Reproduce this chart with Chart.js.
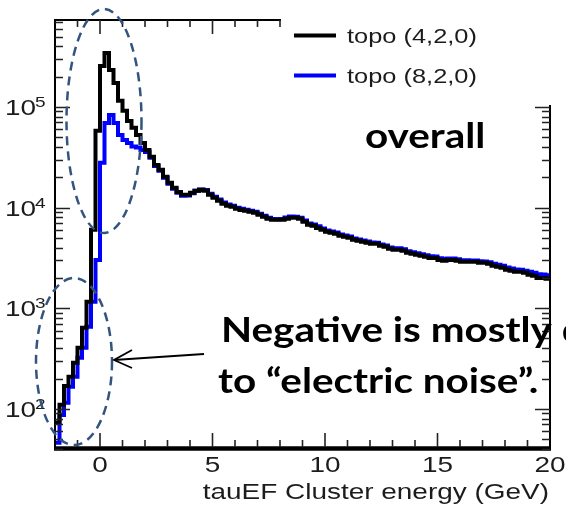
<!DOCTYPE html>
<html>
<head>
<meta charset="utf-8">
<script src="https://cdn.jsdelivr.net/npm/chart.js@4.4.1/dist/chart.umd.min.js"></script>
<style>
html, body { margin: 0; padding: 0; background: #fff; }
canvas { display: block; }
</style>
</head>
<body>
<canvas id="c" width="566" height="508"></canvas>
<script>
// Histogram binning: 110 bins of 0.2 GeV between -2 and 20 GeV
const binLow = -2;
const binHigh = 20;
const binWidth = 0.2;

// Entries per bin, clustering topo (4,2,0)
const topo420 = [
  73, 110, 169, 208, 287, 405, 638, 1160, 6010, 57800,
  255000, 344000, 233000, 173000, 114800, 91300, 72600, 61900, 52700, 43900,
  37400, 31900, 26500, 23700, 20200, 17600, 15700, 14300, 13400, 13400,
  14000, 14700, 15000, 14700, 13400, 12500, 11700, 10900, 10400, 10200,
  9700, 9480, 9270, 9060, 8860, 8470, 8090, 7720, 7550, 7550,
  7550, 7720, 7900, 7900, 7720, 7210, 6730, 6580, 6280, 6010,
  5740, 5610, 5480, 5240, 5120, 5000, 4780, 4670, 4560, 4460,
  4360, 4360, 4170, 4070, 3890, 3800, 3800, 3720, 3550, 3470,
  3390, 3310, 3240, 3160, 3160, 3020, 2960, 3020, 3020, 2960,
  2890, 2890, 2890, 2890, 2820, 2820, 2760, 2640, 2580, 2520,
  2410, 2350, 2300, 2300, 2250, 2150, 2100, 2000, 2000, 1960
];

// Entries per bin, clustering topo (8,2,0)
const topo820 = [
  46, 87, 115, 166, 208, 321, 405, 653, 1160, 3020,
  27800, 69300, 83300, 69300, 52700, 47000, 43900, 40500, 39600, 37400,
  35700, 31200, 25900, 23200, 19800, 17200, 15400, 14000, 13100, 13200,
  13900, 14700, 15100, 14900, 13700, 12800, 12000, 11200, 10700, 10400,
  9950, 9720, 9500, 9300, 9100, 8700, 8300, 7900, 7700, 7650,
  7700, 7950, 8150, 8100, 7900, 7450, 6950, 6800, 6500, 6200,
  5920, 5780, 5650, 5400, 5280, 5150, 4930, 4820, 4700, 4600,
  4500, 4480, 4300, 4200, 4010, 3930, 3950, 3850, 3680, 3590,
  3510, 3430, 3360, 3280, 3270, 3130, 3080, 3120, 3110, 3060,
  2990, 3000, 2980, 2970, 2920, 2910, 2860, 2760, 2700, 2640,
  2540, 2480, 2430, 2410, 2360, 2300, 2250, 2180, 2160, 2120
];

const seriesNames = ['topo (4,2,0)', 'topo (8,2,0)'];
const seriesColors = ['#000000', '#0000ff'];

// Axis labelling
const xMajorTicks = [0, 5, 10, 15, 20];
const yDecades = [2, 3, 4, 5];
const xTitle = 'tauEF Cluster energy (GeV)';
const yMin = 39;
const yMax = 7.3e5;

// Slide annotations
const noteOverall = 'overall';
const noteLine1 = 'Negative is mostly due';
const noteLine2 = 'to \u201celectric noise\u201d.';

// Points at each bin's low edge, closed at the upper axis limit
function stepPoints(vals) {
  const pts = vals.map((v, i) => ({ x: binLow + i * binWidth, y: v }));
  pts.push({ x: binHigh, y: vals[vals.length - 1] });
  return pts;
}

const ROOT_STRETCH = 1.27;
const ROOT_FONT = '"Liberation Sans", Arial, sans-serif';
const TEXT_COLOR = '#1c1c1c';

function rootText(ctx, text, x, y, size, align) {
  ctx.save();
  ctx.font = size + 'px ' + ROOT_FONT;
  ctx.fillStyle = TEXT_COLOR;
  ctx.textAlign = align;
  ctx.textBaseline = 'alphabetic';
  ctx.translate(x, y);
  ctx.scale(ROOT_STRETCH, 1);
  ctx.fillText(text, 0, 0);
  ctx.restore();
}

function rootTextWidth(ctx, text, size) {
  ctx.save();
  ctx.font = size + 'px ' + ROOT_FONT;
  const w = ctx.measureText(text).width * ROOT_STRETCH;
  ctx.restore();
  return w;
}

// Bold slide text, widened slightly
function noteText(ctx, text, x, y) {
  ctx.save();
  ctx.font = 'bold 35px Lato, sans-serif';
  ctx.fillStyle = '#000';
  ctx.textAlign = 'left';
  ctx.textBaseline = 'alphabetic';
  ctx.translate(x, y);
  ctx.scale(1.155, 1);
  ctx.fillText(text, 0, 0);
  ctx.restore();
}

const rootFrame = {
  id: 'rootFrame',
  afterDraw(chart) {
    const { ctx, chartArea: a, scales } = chart;
    const x = scales.x, y = scales.y;
    ctx.save();
    ctx.strokeStyle = '#000';
    ctx.lineCap = 'butt';

    // frame
    ctx.lineWidth = 2;
    ctx.beginPath();
    ctx.moveTo(a.left, a.bottom);
    ctx.lineTo(a.left, a.top);
    ctx.lineTo(a.right, a.top);
    ctx.lineTo(a.right, a.bottom);
    ctx.stroke();
    ctx.lineWidth = 4.5;
    ctx.beginPath();
    ctx.moveTo(a.left - 1, a.bottom - 1.5);
    ctx.lineTo(a.right + 1, a.bottom - 1.5);
    ctx.stroke();

    // x ticks, inside the frame on bottom and top
    ctx.lineWidth = 1.6;
    ctx.strokeStyle = '#222';
    for (let v = binLow + 1; v < binHigh; v++) {
      const px = x.getPixelForValue(v);
      const len = xMajorTicks.includes(v) ? 14 : 7;
      ctx.beginPath();
      ctx.moveTo(px, a.bottom - 3);
      ctx.lineTo(px, a.bottom - 3 - len);
      ctx.moveTo(px, a.top);
      ctx.lineTo(px, a.top + len);
      ctx.stroke();
    }

    // logarithmic y ticks on both sides
    for (let e = 1; e <= 5; e++) {
      for (let k = 1; k <= 9; k++) {
        const v = k * Math.pow(10, e);
        if (v < yMin || v > yMax) continue;
        const py = Math.round(y.getPixelForValue(v)) + 0.5;
        const len = k === 1 ? 15 : 8;
        ctx.beginPath();
        ctx.moveTo(a.left, py);
        ctx.lineTo(a.left + len, py);
        ctx.moveTo(a.right, py);
        ctx.lineTo(a.right - len, py);
        ctx.stroke();
      }
    }
    ctx.restore();

    // legend panel
    ctx.save();
    ctx.fillStyle = '#fff';
    ctx.fillRect(281, 0, chart.width - 281, 105);
    seriesNames.forEach((name, i) => {
      const base = 43 + i * 40;
      ctx.strokeStyle = seriesColors[i];
      ctx.lineWidth = 4;
      ctx.beginPath();
      ctx.moveTo(294, base - 7.5);
      ctx.lineTo(336, base - 7.5);
      ctx.stroke();
      rootText(ctx, name, 347, base, 20, 'left');
    });
    ctx.restore();

    // x tick labels and title
    xMajorTicks.forEach(v => {
      rootText(ctx, String(v), x.getPixelForValue(v), 472, 22, 'center');
    });
    rootText(ctx, xTitle, a.right - 1, 499, 22, 'right');

    // y tick labels as powers of ten
    yDecades.forEach(e => {
      const py = y.getPixelForValue(Math.pow(10, e));
      const w10 = rootTextWidth(ctx, '10', 22);
      rootText(ctx, '10', 5, py + 8, 22, 'left');
      rootText(ctx, String(e), 5 + w10 - 1, py, 15, 'left');
    });

    // annotations
    noteText(ctx, noteOverall, 365, 148);
    noteText(ctx, noteLine1, 221, 342);
    noteText(ctx, noteLine2, 218, 393);

    ctx.save();
    ctx.strokeStyle = 'rgb(50, 84, 126)';
    ctx.lineWidth = 2.5;
    ctx.setLineDash([9, 6]);
    ctx.beginPath();
    ctx.ellipse(104, 121, 37.5, 112, 0, 0, Math.PI * 2);
    ctx.stroke();
    ctx.beginPath();
    ctx.ellipse(74, 361.5, 38, 83.5, 0, 0, Math.PI * 2);
    ctx.stroke();
    ctx.setLineDash([]);

    ctx.strokeStyle = '#000';
    ctx.lineWidth = 1.8;
    ctx.beginPath();
    ctx.moveTo(204, 354);
    ctx.lineTo(114, 360);
    ctx.stroke();
    ctx.beginPath();
    ctx.moveTo(132, 350);
    ctx.lineTo(114, 360);
    ctx.lineTo(132, 368);
    ctx.stroke();
    ctx.restore();
  }
};

const datasets = seriesNames.map((name, i) => ({
  label: name,
  data: stepPoints(i === 0 ? topo420 : topo820),
  borderColor: seriesColors[i],
  borderWidth: 4,
  stepped: 'before',
  pointRadius: 0,
  fill: false,
  clip: 0,
  borderJoinStyle: 'miter',
  borderCapStyle: 'butt'
}));

new Chart(document.getElementById('c'), {
  type: 'line',
  data: { datasets },
  options: {
    responsive: false,
    animation: false,
    devicePixelRatio: 1,
    layout: { padding: { left: 0, right: 16, top: 20, bottom: 0 } },
    plugins: { legend: { display: false }, tooltip: { enabled: false } },
    scales: {
      x: {
        type: 'linear', min: binLow, max: binHigh,
        ticks: { display: false }, grid: { display: false }, border: { display: false },
        afterFit: s => { s.height = 58; }
      },
      y: {
        type: 'logarithmic', min: yMin, max: yMax,
        ticks: { display: false }, grid: { display: false }, border: { display: false },
        afterFit: s => { s.width = 55; }
      }
    }
  },
  plugins: [rootFrame]
});
</script>
</body>
</html>
